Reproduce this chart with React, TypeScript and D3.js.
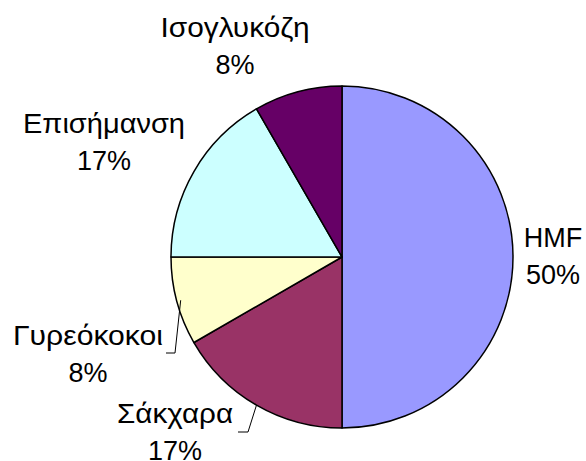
import React from "react";
import * as d3 from "d3";

const categories = ["HMF", "Σάκχαρα", "Γυρεόκοκοι", "Επισήμανση", "Ισογλυκόζη"];
const values = [6, 2, 1, 2, 1];
const colors = ["#9999FF", "#993366", "#FFFFCC", "#CCFFFF", "#660066"];

const W = 586;
const H = 461;
const CX = 342;
const CY = 257;
const R = 171;
const FONT = 27;
const LINE = 37;

// label anchor (center x, first baseline y) and rendered width of the name line
const labelLayout = [
  { x: 553, y: 247, w: 0 },
  { x: 175, y: 423, w: 116 },
  { x: 88, y: 345, w: 150 },
  { x: 104, y: 133, w: 162 },
  { x: 235, y: 37, w: 149 },
];

export default function App() {
  const total = d3.sum(values);
  const pie = d3
    .pie<number>()
    .sort(null)
    .startAngle(0)
    .endAngle(2 * Math.PI);
  const arcs = pie(values);
  const arc = d3.arc<d3.PieArcDatum<number>>().innerRadius(0).outerRadius(R);

  const mid = (a: d3.PieArcDatum<number>) => (a.startAngle + a.endAngle) / 2;
  const pt = (ang: number, r: number) => [Math.sin(ang) * r, -Math.cos(ang) * r];

  // leader lines for the two lower-left labels
  const sak = pt(mid(arcs[1]), R);
  const gyr = pt(mid(arcs[2]), R - 4);

  return (
    <svg
      width={W}
      height={H}
      style={{ position: "absolute", left: 0, top: 0, background: "#fff" }}
    >
      <rect x={0} y={0} width={W} height={H} fill="#fff" />
      <g transform={`translate(${CX},${CY})`}>
        {arcs.map((a, i) => (
          <path
            key={i}
            d={arc(a) || ""}
            fill={colors[i]}
            stroke="#000"
            strokeWidth={1.5}
            strokeLinejoin="round"
          />
        ))}
      </g>
      <polyline
        points={`238,432 248,432 ${CX + sak[0]},${CY + sak[1]}`}
        fill="none"
        stroke="#000"
        strokeWidth={1}
      />
      <polyline
        points={`166,353 175,353 ${CX + gyr[0]},${CY + gyr[1]}`}
        fill="none"
        stroke="#000"
        strokeWidth={1}
      />
      {categories.map((c, i) => {
        const L = labelLayout[i];
        return (
          <g
            key={c}
            fontFamily="'Liberation Sans', Arial, sans-serif"
            fontSize={FONT}
            fill="#000"
            textAnchor="middle"
          >
            {L.w > 0 ? (
              <text
                x={L.x}
                y={L.y}
                textLength={L.w}
                lengthAdjust="spacingAndGlyphs"
              >
                {c}
              </text>
            ) : (
              <text x={L.x} y={L.y}>
                {c}
              </text>
            )}
            <text x={L.x} y={L.y + LINE}>
              {Math.round((values[i] / total) * 100)}%
            </text>
          </g>
        );
      })}
    </svg>
  );
}
